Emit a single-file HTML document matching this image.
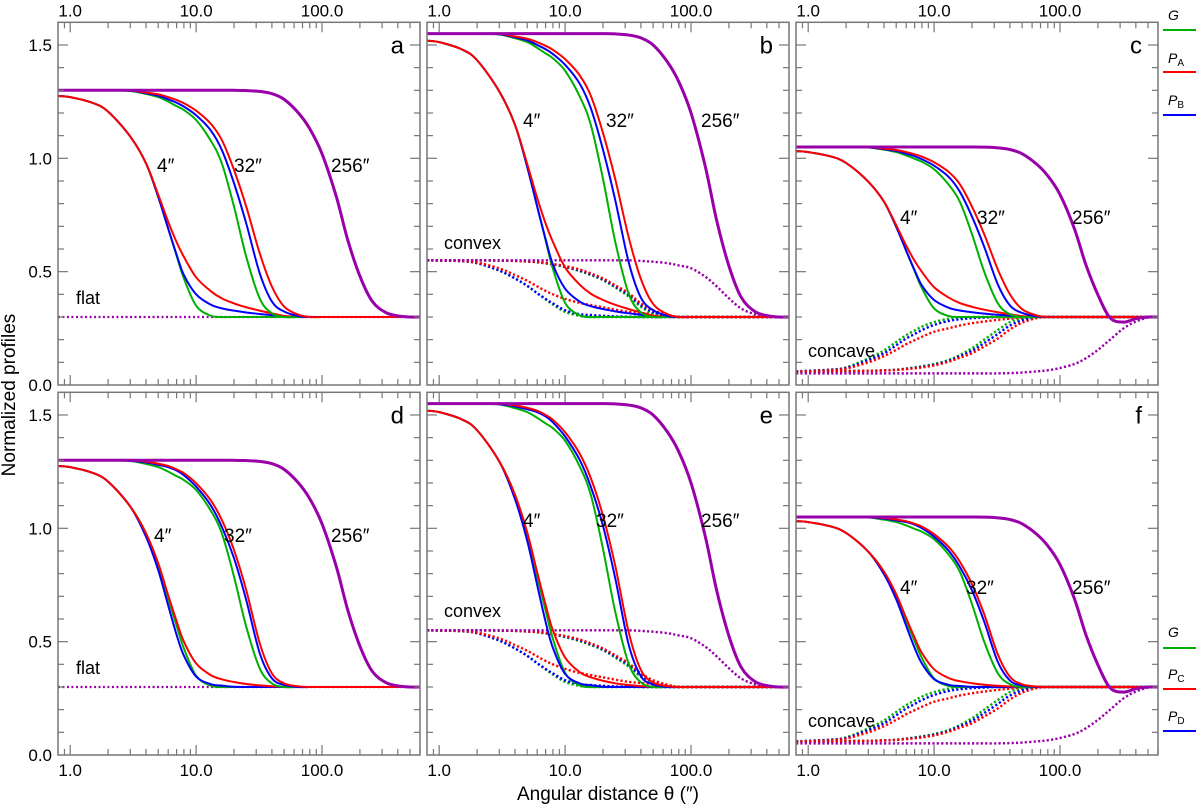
<!DOCTYPE html>
<html><head><meta charset="utf-8"><style>
html,body{margin:0;padding:0;background:#fff;}
svg{display:block;font-family:"Liberation Sans",sans-serif;}
</style></head><body>
<svg id="chart" width="1200" height="806" viewBox="0 0 1200 806" xmlns="http://www.w3.org/2000/svg">
<text x="15" y="395" transform="rotate(-90 15 395)" text-anchor="middle" font-size="19">Normalized profiles</text>
<text x="608" y="800" text-anchor="middle" font-size="19">Angular distance θ (″)</text>
<g>
<text x="1168" y="20" font-size="14" font-style="italic">G</text>
<line x1="1163" x2="1196" y1="30" y2="30" stroke="#00b000" stroke-width="2"/>
<text x="1168" y="63" font-size="14"><tspan font-style="italic">P</tspan><tspan font-size="10" dy="3">A</tspan></text>
<line x1="1163" x2="1196" y1="72" y2="72" stroke="#ff0000" stroke-width="2"/>
<text x="1168" y="105" font-size="14"><tspan font-style="italic">P</tspan><tspan font-size="10" dy="3">B</tspan></text>
<line x1="1163" x2="1196" y1="115" y2="115" stroke="#0000ff" stroke-width="2"/>
</g>
<g>
<text x="1168" y="637" font-size="14" font-style="italic">G</text>
<line x1="1163" x2="1196" y1="648" y2="648" stroke="#00b000" stroke-width="2"/>
<text x="1168" y="679" font-size="14"><tspan font-style="italic">P</tspan><tspan font-size="10" dy="3">C</tspan></text>
<line x1="1163" x2="1196" y1="689" y2="689" stroke="#ff0000" stroke-width="2"/>
<text x="1168" y="721" font-size="14"><tspan font-style="italic">P</tspan><tspan font-size="10" dy="3">D</tspan></text>
<line x1="1163" x2="1196" y1="731" y2="731" stroke="#0000ff" stroke-width="2"/>
</g>
</svg>
<script>
const T=[0.8,1,1.5,2,3,4,5,6,7,8,10,13,16,20,25,32,40,50,65,80,100,130,160,200,250,320,400,500,600];
const Z=n=>Array(n).fill(0);
// solid source profile shapes (fraction of source amplitude)
const G4=[.975,.97,.945,.906,.796,.678,.53,.39,.27,.17,.05,.006].concat(Z(17));
const B4=[.975,.97,.945,.906,.796,.678,.53,.39,.275,.185,.1,.055,.038,.028,.02,.013,.008,.003].concat(Z(11));
const A4=[.975,.97,.945,.906,.796,.678,.54,.42,.33,.265,.175,.115,.082,.06,.043,.028,.016,.005].concat(Z(11));
const C4=[.975,.97,.945,.906,.796,.678,.546,.405,.29,.2,.104,.053,.034,.022,.013,.007,.003,.001].concat(Z(11));
const D4=[.975,.97,.945,.906,.796,.663,.516,.36,.23,.138,.046,.013,.006,.001].concat(Z(15));
const G32=[1,1,1,1,.997,.984,.97,.95,.93,.913,.869,.78,.678,.487,.266,.082,.016,0].concat(Z(11));
const B32=[1,1,1,1,.998,.987,.976,.96,.945,.928,.89,.825,.737,.59,.413,.193,.068,.024,.004].concat(Z(10));
const A32=[1,1,1,1,.999,.99,.982,.97,.957,.943,.91,.854,.781,.649,.487,.281,.134,.046,.01].concat(Z(10));
const C32=[1,1,1,1,.999,.994,.985,.975,.96,.943,.899,.825,.737,.604,.428,.193,.06,.016,.003].concat(Z(10));
const D32=[1,1,1,1,.998,.99,.98,.97,.955,.934,.884,.803,.707,.568,.384,.149,.038,.009].concat(Z(11));
const P256=Array(14).fill(1).concat([.999,.995,.985,.96,.9,.83,.72,.53,.34,.18,.07,.02,.005,0,0]);
const P256c=Array(14).fill(1).concat([.999,.995,.985,.96,.9,.83,.72,.52,.31,.13,-.005,-.03,-.01,0,0]);
// convex background (dotted) shapes
const XG4=[1,.995,.985,.95,.82,.68,.55,.42,.31,.22,.09,.02].concat(Z(17));
const XB4=[1,.995,.985,.95,.82,.68,.55,.42,.32,.24,.12,.05,.035,.02,.01,.004].concat(Z(13));
const XR4=[1,.995,.988,.96,.86,.74,.64,.54,.46,.40,.32,.25,.21,.17,.13,.09,.07,.05,.02].concat(Z(10));
const XG32=[1,1,1,1,.995,.99,.98,.965,.945,.925,.88,.81,.74,.65,.52,.36,.18,.06,.01].concat(Z(10));
const XB32=[1,1,1,1,.995,.99,.98,.968,.95,.93,.89,.825,.755,.665,.54,.39,.21,.09,.025].concat(Z(10));
const XR32=[1,1,1,1,.995,.99,.98,.97,.955,.935,.9,.84,.77,.68,.56,.42,.24,.12,.04].concat(Z(10));
const XP=Array(16).fill(1).concat([.99,.975,.95,.91,.86,.71,.54,.33,.15,.05,.01,0,0]);
// concave background (dotted) shapes
const VG4=[.96,.95,.93,.89,.73,.59,.44,.32,.24,.17,.09,.03,.01].concat(Z(16));
const VB4=[.96,.95,.93,.90,.76,.64,.50,.38,.30,.23,.14,.07,.04,.02,.01].concat(Z(14));
const VR4=[.96,.955,.94,.91,.8,.69,.58,.48,.41,.35,.26,.2,.15,.11,.08,.05,.03,.01].concat(Z(11));
const VG32=[.96,.96,.96,.955,.95,.94,.93,.91,.89,.87,.83,.76,.67,.55,.40,.23,.09,.03].concat(Z(11));
const VB32=[.96,.96,.96,.955,.95,.943,.933,.915,.898,.88,.843,.775,.695,.595,.46,.3,.15,.06,.01].concat(Z(10));
const VR32=[.96,.96,.96,.955,.95,.945,.935,.92,.905,.89,.855,.79,.72,.64,.52,.38,.22,.1,.02].concat(Z(10));
const VP=Array(16).fill(.995).concat([.99,.98,.96,.94,.9,.83,.73,.58,.4,.2,.08,.01,0]);
const xTickLabels=["1.0","10.0","100.0"];
const yTickLabels=["0.0","0.5","1.0","1.5"];

const svg=document.getElementById('chart');
const NS="http://www.w3.org/2000/svg";
const COL={g:"#00b000",b:"#0000ff",r:"#ff0000",p:"#9a00aa"};
const W=362,H=362.7,XMIN=0.8,XMAX=600,YMAX=1.6;
function mk(tag,attrs,parent){const e=document.createElementNS(NS,tag);for(const k in attrs)e.setAttribute(k,attrs[k]);(parent||svg).appendChild(e);return e;}
function pathD(pts){let d="M"+pts[0][0].toFixed(2)+","+pts[0][1].toFixed(2);
 for(let i=0;i<pts.length-1;i++){const p0=pts[i-1]||pts[i],p1=pts[i],p2=pts[i+1],p3=pts[i+2]||pts[i+1];
  const c1=[p1[0]+(p2[0]-p0[0])/6,p1[1]+(p2[1]-p0[1])/6],c2=[p2[0]-(p3[0]-p1[0])/6,p2[1]-(p3[1]-p1[1])/6];
  d+="C"+c1[0].toFixed(2)+","+c1[1].toFixed(2)+" "+c2[0].toFixed(2)+","+c2[1].toFixed(2)+" "+p2[0].toFixed(2)+","+p2[1].toFixed(2);}
 return d;}
const panels=[
 {id:"a",x0:58,y0:22.3,bg:0,sets:[[G4,B4,A4],[G32,B32,A32]],p:P256,dots:null,top:true,lab:["flat",76,304],beams:[[157,172],[234,172],[331,172]]},
 {id:"b",x0:427,y0:22.3,bg:0.25,sets:[[G4,B4,A4],[G32,B32,A32]],p:P256,dots:[[XG4,XB4,XR4],[XG32,XB32,XR32],XP],top:true,lab:["convex",444,249],beams:[[523,127],[606,127],[701,127]]},
 {id:"c",x0:796,y0:22.3,bg:-0.25,sets:[[G4,B4,A4],[G32,B32,A32]],p:P256c,dots:[[VG4,VB4,VR4],[VG32,VB32,VR32],VP],top:true,lab:["concave",808,357],beams:[[900,224],[977,224],[1072,224]]},
 {id:"d",x0:58,y0:392.3,bg:0,sets:[[G4,D4,C4],[G32,D32,C32]],p:P256,dots:null,top:false,lab:["flat",76,674],beams:[[154,542],[224,542],[331,542]]},
 {id:"e",x0:427,y0:392.3,bg:0.25,sets:[[G4,D4,C4],[G32,D32,C32]],p:P256,dots:[[XG4,XB4,XR4],[XG32,XB32,XR32],XP],top:false,lab:["convex",444,617],beams:[[523,527],[596,527],[701,527]]},
 {id:"f",x0:796,y0:392.3,bg:-0.25,sets:[[G4,D4,C4],[G32,D32,C32]],p:P256c,dots:[[VG4,VB4,VR4],[VG32,VB32,VR32],VP],top:false,lab:["concave",808,727],beams:[[900,594],[966,594],[1072,594]]}
];
panels.forEach(P=>{
 const g=mk("g",{});
 
 
 const sx=t=>P.x0+W*(Math.log10(t)-Math.log10(XMIN))/(Math.log10(XMAX)-Math.log10(XMIN));
 const sy=v=>P.y0+H*(1-v/YMAX);
 const cid="clip-"+P.id;
 const cp=mk("clipPath",{id:cid},g);mk("rect",{x:P.x0,y:P.y0,width:W,height:H},cp);
 const cg=mk("g",{"clip-path":"url(#"+cid+")"},g);
 const line=(vals,col,w,dash,name)=>{
  const pts=T.map((t,i)=>[sx(t),sy(vals[i])]);
  const e=mk("path",{d:pathD(pts),fill:"none",stroke:col,"stroke-width":w},cg);
  if(dash)e.setAttribute("stroke-dasharray",dash);
  
  
 };
 const cols=[COL.g,COL.b,COL.r];const beamNames=["4","32"];
 const amp=1+P.bg;
 if(!P.dots){
  line(T.map(()=>0.3),COL.p,2.2,"2 2.5","background-flat");
 } else {
  const sg=Math.sign(P.bg);
  for(let k=0;k<2;k++)for(let j=0;j<3;j++){
   const s=P.dots[k][j];
   line(s.map(v=>0.3+sg*0.25*v),cols[j],2.4,"2.2 2.2","background-"+beamNames[k]+"-"+j);
  }
  line(P.dots[2].map(v=>0.3+sg*0.25*v),COL.p,2.4,"2.2 2.2","background-256");
 }
 for(let k=0;k<2;k++)for(let j=0;j<3;j++){
  const src=P.sets[k][j];
  line(src.map(v=>0.3+amp*v),cols[j],2,null,"profile-"+beamNames[k]+"-"+j);
 }
 line(P.p.map(v=>0.3+amp*v),COL.p,3,null,"profile-256");
 const fr=mk("rect",{x:P.x0,y:P.y0,width:W,height:H,fill:"none",stroke:"#777","stroke-width":1.5},g);
 
 
 const tk=mk("g",{stroke:"#777","stroke-width":1.2},g);
 [1,10,100].forEach(dec=>{for(let m=1;m<10;m++){const t=dec*m;if(t>XMAX)continue;const x=sx(t);const L=m===1?10:6;
  mk("line",{x1:x,x2:x,y1:P.y0,y2:P.y0+L},tk);mk("line",{x1:x,x2:x,y1:P.y0+H,y2:P.y0+H-L},tk);}});
 [0.9].forEach(t=>{const x=sx(t);mk("line",{x1:x,x2:x,y1:P.y0,y2:P.y0+6},tk);mk("line",{x1:x,x2:x,y1:P.y0+H,y2:P.y0+H-6},tk);});
 for(let k=1;k<16;k++){const y=sy(k/10);const L=k%5===0?10:6;
  mk("line",{x1:P.x0,x2:P.x0+L,y1:y,y2:y},tk);mk("line",{x1:P.x0+W,x2:P.x0+W-L,y1:y,y2:y},tk);}
 xTickLabels.forEach((s,i)=>{const x=sx(Math.pow(10,i));
  const t=mk("text",{x:x,y:P.top?P.y0-6:P.y0+H+21,"text-anchor":"middle","font-size":17},g);t.textContent=s;
  
  });
 if(P.x0===58) yTickLabels.forEach((s,i)=>{const t=mk("text",{x:P.x0-6,y:sy(i*0.5)+6,"text-anchor":"end","font-size":17},g);t.textContent=s;
  
  });
 const lt=mk("text",{x:P.x0+W-16,y:P.y0+31,"text-anchor":"end","font-size":24},g);lt.textContent=P.id;
 
 
 const bl=mk("text",{x:P.lab[1],y:P.lab[2],"font-size":18},g);bl.textContent=P.lab[0];
 
 
 ["4″","32″","256″"].forEach((s,i)=>{const t=mk("text",{x:P.beams[i][0],y:P.beams[i][1],"font-size":19},g);t.textContent=s;
  
  });
});
</script>
</body></html>
